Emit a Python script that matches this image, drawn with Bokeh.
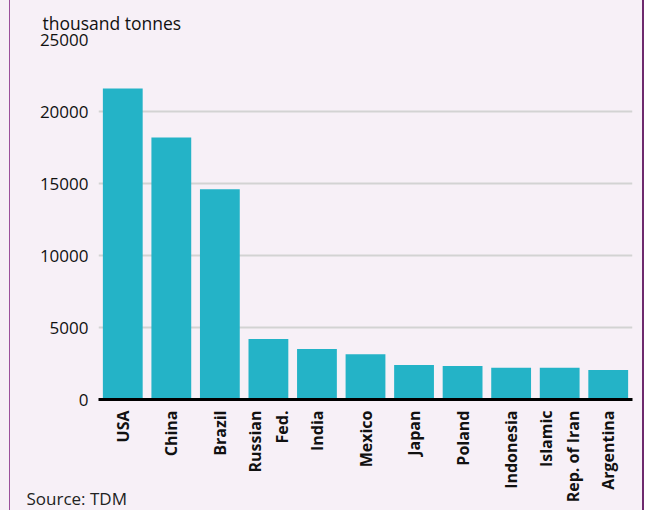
import math
from bokeh.plotting import figure
from bokeh.models import ColumnDataSource, Title
from bokeh.embed import file_html
from bokeh.resources import INLINE

countries = ["USA", "China", "Brazil", "Russian\nFed.", "India", "Mexico",
             "Japan", "Poland", "Indonesia", "Islamic\nRep. of Iran", "Argentina"]
production = [21600, 18200, 14600, 4200, 3500, 3150, 2400, 2330, 2200, 2200, 2050]
y_ticks = [0, 5000, 10000, 15000, 20000, 25000]

BG = "#f7f0f7"
FONT = "Open Sans"

src = ColumnDataSource(dict(country=countries, value=production))

p = figure(x_range=countries, y_range=(0, 25000), width=644, height=510,
           output_backend="svg", toolbar_location=None,
           min_border_left=98, min_border_right=12, min_border_top=39, min_border_bottom=111,
           background_fill_color=BG, border_fill_color=None, outline_line_color=None)
p.x_range.range_padding = 0

p.vbar(x="country", top="value", width=0.82, source=src, color="#24b3c7", line_color=None)

p.xgrid.grid_line_color = None
p.ygrid.grid_line_color = "#d3d3d3"
p.ygrid.grid_line_width = 2
p.yaxis.ticker = y_ticks
p.yaxis.axis_line_color = None
p.yaxis.major_tick_line_color = None
p.yaxis.minor_tick_line_color = None
p.yaxis.major_tick_out = 0
p.yaxis.minor_tick_out = 0
p.yaxis.major_label_standoff = 10
p.yaxis.major_label_text_font = FONT
p.yaxis.major_label_text_font_size = "17px"
p.yaxis.major_label_text_color = "#111111"

p.xaxis.axis_line_color = "black"
p.xaxis.axis_line_width = 3
p.xaxis.major_tick_line_color = None
p.xaxis.minor_tick_line_color = None
p.xaxis.major_tick_out = 0
p.xaxis.minor_tick_out = 0
p.xaxis.major_label_orientation = math.pi / 2
p.xaxis.major_label_standoff = 11
p.xaxis.major_label_text_font = FONT
p.xaxis.major_label_text_font_style = "bold"
p.xaxis.major_label_text_font_size = "16px"
p.xaxis.major_label_text_color = "#111111"

p.title = Title(text="thousand tonnes", align="left", offset=-56,
                text_font=FONT, text_font_size="17.5px", text_font_style="normal",
                text_color="#111111", standoff=10)
p.add_layout(Title(text="Source: TDM", align="left", offset=-72, vertical_align="top",
                   text_font=FONT, text_font_size="17px", text_font_style="normal",
                   text_color="#222222", standoff=-38), "below")

p.styles = {"background": ("linear-gradient(to right, %s 0px, %s 9px, #9c519c 9px, #9c519c 10px, "
                           "%s 10px, %s 642px, #6e2a6e 642px, #6e2a6e 644px)") % (BG, BG, BG, BG)}

open("out.html", "w").write(file_html(p, INLINE))
